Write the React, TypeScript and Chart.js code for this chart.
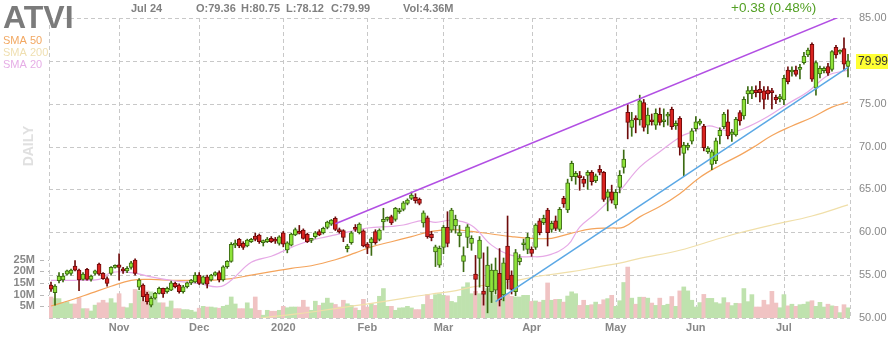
import React, { useEffect, useRef } from 'react';
import { Chart, registerables } from 'chart.js';

Chart.register(...registerables);

const FONT = '"Liberation Sans", Arial, Helvetica, sans-serif';

const TICKER = 'ATVI';
const LAST_DATE = 'Jul 24';

// trading-day index of the first session of each month, and its label
const monthIdx = [17, 37, 58, 79, 98, 120, 141, 161, 183];
const monthLabels = ['Nov', 'Dec', '2020', 'Feb', 'Mar', 'Apr', 'May', 'Jun', 'Jul'];

const priceTicks = [50, 55, 60, 65, 70, 75, 80, 85];
const volTicksM = [5, 10, 15, 20, 25];

const opens = [
  53.84, 52.95, 54.35, 54.43, 55.12, 55.2, 56.06, 55.59, 54.5, 55.67,
  54.5, 55.2, 56.3, 55.2, 54.6, 55.2, 55.9, 56.2, 55.7, 55.5,
  55.9, 56.76, 53.6, 53.84, 52.8, 51.5, 52.3, 52.87, 53.45, 53.07,
  53.26, 54.04, 53.84, 53.07, 53.65, 54.1, 54.2, 55.0, 54.04, 54.8,
  54.43, 55.0, 55.3, 54.43, 55.98, 56.6, 58.5, 59.17, 58.7, 58.4,
  58.9, 59.56, 59.68, 58.8, 58.9, 59.29, 59.2, 58.7, 59.95, 57.93,
  58.5, 59.7, 60.07, 60.26, 59.75, 59.05, 59.48, 60.07, 59.95, 60.57,
  60.96, 61.62, 60.33, 60.2, 58.08, 58.8, 60.57, 59.95, 60.18, 58.62,
  58.78, 60.07, 59.17, 61.2, 61.5, 61.82, 61.5, 62.4, 62.67, 63.37,
  63.96, 64.07, 63.84, 61.1, 61.7, 59.75, 57.7, 56.17, 58.24, 60.57,
  60.26, 60.73, 59.6, 56.6, 59.4, 58.7, 55.13, 56.95, 53.14, 53.65,
  53.07, 53.26, 55.2, 52.68, 58.4, 55.0, 53.07, 56.57, 58.55, 58.0,
  58.0, 58.24, 61.35, 61.12, 62.6, 60.34, 61.35, 60.34, 63.96, 62.6,
  66.49, 66.49, 66.56, 66.17, 66.64, 66.99, 66.02, 67.34, 66.99, 64.07,
  64.73, 63.18, 65.24, 67.57, 73.99, 72.24, 73.2, 73.1, 75.12, 72.5,
  73.1, 72.5, 73.76, 72.9, 73.56, 74.34, 72.4, 73.29, 69.2, 69.9,
  70.64, 72.1, 72.7, 72.4, 69.4, 67.92, 68.35, 71.23, 72.32, 72.9,
  71.43, 71.35, 73.96, 73.57, 76.14, 76.14, 76.6, 76.68, 76.5, 76.6,
  76.5, 75.75, 75.6, 75.44, 78.93, 78.7, 78.93, 79.0, 79.79, 80.69,
  81.93, 76.8, 78.47, 78.85, 79.32, 79.01, 81.58, 81.0, 81.42, 79.36,
];

const highs = [
  54.2, 53.9, 55.3, 55.2, 55.6, 55.7, 56.7, 55.7, 55.3, 55.8,
  55.0, 55.6, 56.4, 55.3, 54.8, 56.0, 56.2, 57.5, 55.9, 56.0,
  56.6, 56.9, 54.6, 54.0, 53.0, 52.5, 53.0, 53.6, 53.5, 53.6,
  54.3, 54.2, 54.0, 53.8, 54.2, 54.5, 55.3, 55.3, 54.9, 55.0,
  55.1, 55.4, 55.5, 56.1, 56.7, 58.8, 59.1, 59.3, 58.9, 59.2,
  59.3, 59.9, 59.8, 59.1, 59.4, 59.5, 59.4, 59.6, 60.1, 58.9,
  59.9, 60.5, 60.8, 60.4, 59.9, 59.3, 60.1, 60.3, 60.6, 61.3,
  61.5, 61.8, 60.5, 60.3, 58.6, 60.1, 60.9, 61.1, 60.3, 58.8,
  59.4, 60.3, 60.4, 62.8, 61.8, 62.0, 62.9, 62.8, 63.6, 63.9,
  64.7, 64.5, 64.0, 62.5, 61.9, 60.1, 58.5, 58.4, 60.8, 62.4,
  62.8, 62.0, 60.8, 58.3, 60.9, 59.6, 57.3, 59.5, 57.6, 58.3,
  56.3, 57.0, 58.1, 57.0, 61.9, 55.5, 58.0, 57.4, 59.2, 59.9,
  58.3, 61.0, 61.6, 62.0, 62.8, 61.3, 61.9, 62.9, 64.2, 66.2,
  68.3, 67.1, 67.1, 66.5, 67.2, 67.2, 66.8, 67.8, 67.1, 65.0,
  65.5, 65.0, 67.2, 69.6, 74.9, 74.0, 73.6, 76.0, 75.5, 74.5,
  73.8, 74.4, 74.5, 74.4, 74.0, 74.6, 73.0, 73.5, 70.5, 70.4,
  72.1, 73.5, 73.2, 72.6, 70.0, 69.6, 71.0, 72.2, 74.0, 74.3,
  72.0, 73.4, 74.2, 75.8, 77.0, 77.0, 77.1, 77.6, 77.0, 77.0,
  76.8, 76.0, 76.1, 78.3, 79.3, 79.3, 79.4, 79.6, 81.0, 81.5,
  82.1, 80.0, 79.4, 79.3, 79.7, 81.2, 81.8, 81.3, 82.7, 80.75,
];

const lows = [
  53.1, 51.5, 54.1, 54.2, 55.0, 55.0, 55.5, 53.2, 54.4, 54.4,
  54.3, 55.0, 55.0, 54.5, 53.7, 55.0, 55.8, 54.4, 55.2, 55.3,
  55.7, 55.0, 53.3, 52.0, 51.6, 51.3, 52.2, 52.8, 52.4, 52.9,
  53.2, 53.5, 52.9, 52.9, 53.5, 53.9, 54.1, 53.9, 53.9, 53.5,
  54.3, 54.9, 54.2, 54.3, 55.8, 56.5, 58.2, 58.2, 58.0, 58.3,
  58.8, 59.0, 58.7, 58.4, 58.8, 58.8, 58.7, 58.5, 58.3, 57.6,
  58.4, 59.6, 59.8, 59.2, 58.8, 58.8, 59.3, 59.6, 59.8, 60.4,
  60.8, 60.2, 59.9, 58.9, 57.7, 58.6, 60.1, 59.8, 58.3, 57.5,
  57.3, 58.6, 59.0, 60.26, 61.3, 60.9, 61.3, 62.2, 62.5, 63.2,
  63.8, 63.4, 63.2, 60.6, 59.3, 59.0, 56.0, 55.9, 57.5, 58.3,
  60.0, 59.9, 58.3, 55.4, 58.2, 57.9, 52.7, 53.6, 51.5, 50.6,
  51.8, 52.8, 51.4, 52.0, 53.4, 52.8, 52.6, 56.2, 57.9, 57.5,
  57.2, 58.0, 59.7, 60.9, 58.4, 60.0, 60.2, 60.1, 62.9, 62.3,
  66.0, 65.6, 64.9, 65.3, 65.0, 65.5, 65.8, 66.7, 63.6, 62.5,
  63.4, 62.8, 64.6, 66.9, 70.9, 71.2, 71.6, 72.5, 71.8, 71.5,
  72.5, 72.0, 72.5, 72.3, 72.5, 72.0, 72.0, 69.0, 66.6, 69.6,
  70.3, 71.8, 72.5, 69.5, 69.2, 67.3, 68.0, 70.3, 72.1, 70.9,
  70.6, 71.2, 72.5, 73.2, 75.0, 75.6, 75.8, 75.2, 74.4, 75.5,
  74.4, 75.0, 75.2, 74.9, 77.3, 78.2, 78.2, 77.9, 79.6, 80.5,
  77.6, 76.0, 78.0, 78.6, 78.3, 78.8, 80.3, 80.8, 78.9, 78.12,
];

const closes = [
  53.37, 53.73, 54.9, 54.9, 55.5, 55.59, 55.59, 54.43, 55.12, 54.5,
  54.9, 55.5, 55.12, 54.6, 54.04, 55.9, 56.06, 55.9, 55.5, 55.8,
  56.45, 55.2, 54.43, 52.48, 51.9, 52.29, 52.87, 53.45, 52.8, 53.45,
  54.1, 53.65, 53.07, 53.65, 54.1, 54.43, 55.0, 54.04, 54.8, 53.95,
  55.0, 55.3, 54.43, 55.98, 56.6, 58.6, 58.75, 58.4, 58.24, 59.1,
  59.17, 59.17, 58.9, 58.85, 59.2, 58.9, 58.95, 59.48, 58.62, 58.78,
  59.8, 60.33, 59.87, 59.29, 58.9, 59.1, 59.95, 59.68, 60.45, 61.2,
  61.43, 60.33, 60.07, 59.4, 58.4, 59.95, 60.33, 60.96, 58.4, 58.24,
  59.25, 58.78, 60.26, 61.5, 61.62, 61.1, 62.8, 62.6, 63.45, 63.76,
  64.35, 63.68, 63.37, 62.28, 59.48, 59.36, 58.3, 58.12, 60.57, 58.7,
  62.6, 61.5, 59.98, 57.27, 60.65, 59.3, 54.5, 59.1, 52.75, 56.17,
  55.6, 55.6, 52.1, 56.45, 54.43, 53.33, 57.62, 57.03, 58.7, 59.41,
  57.54, 60.84, 59.95, 61.62, 59.95, 61.04, 60.45, 62.67, 63.3, 65.78,
  68.04, 66.87, 66.37, 65.71, 66.99, 65.9, 66.6, 66.99, 63.84, 64.73,
  63.76, 64.65, 66.64, 68.54, 72.82, 73.1, 73.1, 75.35, 72.24, 73.68,
  72.9, 73.87, 72.82, 72.95, 73.8, 72.32, 72.7, 69.9, 70.18, 70.14,
  71.85, 72.9, 72.98, 69.87, 69.79, 69.4, 70.68, 71.89, 73.8, 71.23,
  71.7, 73.17, 72.98, 75.5, 76.53, 76.6, 76.3, 76.3, 75.5, 76.14,
  76.3, 75.44, 75.8, 77.96, 77.57, 78.8, 78.43, 79.2, 80.57, 81.27,
  77.85, 79.79, 79.13, 79.13, 78.55, 81.07, 80.69, 81.2, 79.61, 79.99,
];

// volume in millions of shares
const volumesM = [
  9.0, 8.3, 8.3, 6.5, 7.0, 6.0, 6.0, 8.7, 4.0, 4.0,
  3.0, 5.5, 6.5, 7.6, 6.5, 8.3, 6.5, 10.4, 4.7, 4.4,
  6.2, 12.2, 11.6, 7.0, 11.6, 11.2, 8.3, 6.5, 6.5, 4.7,
  7.3, 4.0, 4.0, 3.6, 3.6, 3.3, 2.6, 4.2, 5.0, 4.7,
  4.7, 4.4, 4.2, 5.0, 5.5, 9.0, 6.0, 4.0, 4.0, 6.5,
  4.0, 9.0, 3.3, 1.2, 3.3, 2.9, 2.9, 3.3, 5.0, 4.4,
  4.7, 4.7, 4.7, 7.6, 4.7, 3.3, 7.2, 5.4, 6.4, 8.5,
  6.4, 5.8, 4.7, 7.6, 6.1, 5.4, 4.3, 3.3, 8.0, 4.7,
  6.1, 5.4, 9.3, 12.6, 5.0, 5.0, 3.3, 4.3, 4.4, 5.0,
  4.3, 3.6, 3.6, 5.8, 10.0, 8.0, 10.0, 10.4, 9.7, 9.5,
  7.1, 6.6, 9.3, 13.3, 15.1, 10.4, 11.4, 10.4, 9.7, 12.6,
  12.3, 9.7, 10.1, 15.0, 10.4, 9.3, 9.0, 9.0, 9.7, 9.7,
  7.1, 7.3, 6.8, 7.6, 15.0, 7.6, 8.0, 8.0, 6.8, 9.4,
  11.2, 10.4, 5.4, 7.6, 5.4, 5.7, 6.8, 5.8, 7.8, 8.3,
  9.7, 5.0, 7.4, 15.2, 21.8, 8.5, 5.9, 8.9, 8.9, 8.5,
  6.4, 5.4, 8.5, 5.4, 5.9, 9.2, 5.0, 11.6, 13.3, 11.6,
  7.6, 4.7, 6.6, 10.1, 8.4, 8.4, 6.6, 6.1, 8.7, 6.6,
  5.3, 6.3, 6.2, 12.6, 7.0, 10.0, 4.7, 4.7, 7.6, 5.7,
  11.4, 6.4, 4.4, 10.0, 5.2, 5.9, 5.0, 5.7, 5.9, 6.9,
  7.4, 5.0, 6.7, 4.7, 5.9, 5.2, 5.0, 2.3, 5.7, 4.36,
];

// moving averages (day index -> value)
const sma50Idx = [0, 5, 10, 15, 20, 25, 30, 35, 40, 45, 50, 55, 60, 65, 71, 76, 80, 85, 90, 95, 100, 105, 110, 115, 120, 125, 130, 135, 140, 143, 147, 152, 157, 162, 167, 172, 176, 180, 185, 190, 195, 199];
const sma50Val = [51.4, 52.1, 52.9, 53.7, 54.4, 54.5, 54.4, 54.4, 54.4, 54.6, 55.0, 55.4, 55.8, 56.1, 56.8, 57.6, 58.3, 58.9, 59.5, 60.1, 60.3, 60.1, 59.8, 59.5, 59.3, 59.3, 59.9, 60.4, 60.5, 60.6, 61.8, 63.0, 64.5, 66.4, 67.8, 69.0, 70.1, 71.3, 72.4, 73.4, 74.6, 75.2];

const sma20Idx = [0, 6, 12, 15, 20, 25, 30, 37, 42, 45, 50, 55, 58, 62, 67, 71, 79, 85, 88, 93, 96, 100, 105, 110, 115, 120, 124, 129, 132, 136, 139, 142, 147, 152, 157, 160, 164, 167, 170, 174, 179, 184, 189, 194, 199];
const sma20Val = [54.4, 54.4, 54.5, 55.3, 55.3, 54.8, 54.4, 54.0, 53.65, 54.4, 56.5, 57.2, 57.8, 58.6, 59.3, 59.7, 60.5, 60.7, 60.85, 61.4, 61.15, 61.4, 60.8, 58.5, 57.3, 57.15, 57.3, 58.5, 60.6, 62.2, 63.5, 64.8, 67.6, 69.4, 71.1, 71.7, 72.4, 72.1, 71.7, 72.3, 73.5, 75.0, 76.4, 78.3, 78.9];

const sma200Idx = [52, 55, 62, 71, 80, 88, 95, 100, 105, 114, 122, 130, 137, 142, 147, 157, 167, 172, 180, 190, 199];
const sma200Val = [49.95, 50.15, 50.5, 51.1, 51.7, 52.3, 52.8, 53.1, 53.6, 54.2, 54.9, 55.4, 56.0, 56.4, 56.95, 57.9, 59.3, 59.95, 60.85, 61.9, 63.2];

// hand-drawn trend lines (endpoints)
const purpleIdx = [71, 199];
const purpleVal = [61.0, 85.55];
const blueIdx = [111, 199];
const blueVal = [51.9, 79.25];

const UP_FILL = '#8ee33a';
const UP_LINE = '#3c6b12';
const DN_FILL = '#d92320';
const DN_LINE = '#6e0b0b';
const VOL_UP = '#bfe2ae';
const VOL_DN = '#f0c3c3';
const GRID = '#c8c8c8';

// dashed grid drawn from the chart's own scales
const gridPlugin = {
  id: 'dashedGrid',
  beforeDatasetsDraw(chart: any) {
    const { ctx, chartArea: a, scales } = chart;
    ctx.save();
    ctx.lineWidth = 1;
    ctx.strokeStyle = GRID;
    ctx.setLineDash([4, 3]);
    const seg = (x1: number, y1: number, x2: number, y2: number) => {
      ctx.beginPath();
      ctx.moveTo(x1, y1);
      ctx.lineTo(x2, y2);
      ctx.stroke();
    };
    monthIdx.forEach((v) => {
      const x = Math.round(scales.x.getPixelForValue(v)) + 0.5;
      seg(x, a.top, x, a.bottom);
    });
    priceTicks.forEach((v) => {
      const y = Math.round(scales.y.getPixelForValue(v)) + 0.5;
      seg(a.left, y, a.right, y);
    });
    seg(Math.round(a.left) + 0.5, a.top, Math.round(a.left) + 0.5, a.bottom);
    seg(Math.round(a.right) + 0.5, a.top, Math.round(a.right) + 0.5, a.bottom);
    ctx.strokeStyle = '#b8b8b8';
    ctx.setLineDash([4, 4]);
    volTicksM.forEach((v) => {
      const y = Math.round(scales.yVol.getPixelForValue(v * 1e6)) + 0.5;
      seg(a.left - 9, y, a.left, y);
    });
    ctx.restore();
  },
};

const overlayPlugin = {
  id: 'overlayText',
  afterDraw(chart: any) {
    const ctx = chart.ctx;
    const yScale = chart.scales.y;
    const last = closes.length - 1;
    ctx.save();
    ctx.textAlign = 'left';
    ctx.textBaseline = 'alphabetic';

    ctx.fillStyle = '#7b7b7b';
    ctx.font = `bold 32px ${FONT}`;
    ctx.fillText(TICKER, 3, 28);

    ctx.fillStyle = '#808080';
    ctx.font = `bold 11px ${FONT}`;
    ctx.fillText(LAST_DATE, 131, 12);
    const parts: [string, number][] = [['O', opens[last]], ['H', highs[last]], ['L', lows[last]], ['C', closes[last]]];
    const px = [196, 241, 286, 331];
    parts.forEach(([k, v], j) => ctx.fillText(`${k}:${v.toFixed(2)}`, px[j], 12));
    ctx.fillText(`Vol:${volumesM[last].toFixed(2)}M`, 403, 12);

    const chg = closes[last] - closes[last - 1];
    const pct = (chg / closes[last - 1]) * 100;
    ctx.fillStyle = '#53a024';
    ctx.font = `13.5px ${FONT}`;
    ctx.fillText(`${chg >= 0 ? '+' : ''}${chg.toFixed(2)} (${pct.toFixed(2)}%)`, 731, 12);

    ctx.font = `11px ${FONT}`;
    ctx.fillStyle = '#f2a862';
    ctx.fillText('SMA 50', 3, 44);
    ctx.fillStyle = '#efdfb0';
    ctx.fillText('SMA 200', 3, 56);
    ctx.fillStyle = '#e6aee6';
    ctx.fillText('SMA 20', 3, 67.5);

    ctx.save();
    ctx.translate(33, 146);
    ctx.rotate(-Math.PI / 2);
    ctx.textAlign = 'center';
    ctx.font = `bold 14px ${FONT}`;
    ctx.fillStyle = '#e0e0e0';
    ctx.fillText('DAILY', 0, 0);
    ctx.restore();

    const yp = yScale.getPixelForValue(closes[last]);
    ctx.fillStyle = '#ffff33';
    ctx.fillRect(856, Math.round(yp) - 7, 32, 15);
    ctx.fillStyle = '#333333';
    ctx.font = `12px ${FONT}`;
    ctx.textBaseline = 'middle';
    ctx.fillText(closes[last].toFixed(2), 858, Math.round(yp) + 0.5);
    ctx.restore();
  },
};

export default function App() {
  const ref = useRef<HTMLCanvasElement | null>(null);

  useEffect(() => {
    if (!ref.current) return;
    const idx = opens.map((_, i) => i);
    const up = idx.map((i) => closes[i] >= opens[i]);
    const pts = (xs: number[], ys: number[]) => xs.map((x, j) => ({ x, y: ys[j] }));

    const lineDs = (data: any[], color: string, width: number, order: number, tension: number) => ({
      type: 'line' as const,
      data,
      yAxisID: 'y',
      borderColor: color,
      borderWidth: width,
      pointRadius: 0,
      tension,
      fill: false,
      order,
      clip: 0,
    });

    const chart = new Chart(ref.current, {
      type: 'bar',
      data: {
        datasets: [
          {
            type: 'bar',
            data: idx.map((i) => ({ x: i, y: volumesM[i] * 1e6 })),
            yAxisID: 'yVol',
            backgroundColor: idx.map((i) => (up[i] ? VOL_UP : VOL_DN)),
            borderWidth: 0,
            barThickness: 4,
            grouped: false,
            order: 10,
          } as any,
          lineDs(pts(sma200Idx, sma200Val), '#f0dfa9', 1.2, 8, 0.4),
          lineDs(pts(sma50Idx, sma50Val), '#f4a45c', 1.2, 7, 0.4),
          lineDs(pts(sma20Idx, sma20Val), '#e6a9e6', 1.2, 6, 0.4),
          {
            type: 'bar',
            data: idx.map((i) => ({ x: i, y: [lows[i], highs[i]] })),
            yAxisID: 'y',
            backgroundColor: idx.map((i) => (up[i] ? UP_LINE : DN_LINE)),
            borderWidth: 0,
            barThickness: 1,
            grouped: false,
            order: 3,
          } as any,
          {
            type: 'bar',
            data: idx.map((i) => ({ x: i, y: [opens[i], closes[i]] })),
            yAxisID: 'y',
            backgroundColor: idx.map((i) => (up[i] ? UP_FILL : DN_FILL)),
            borderColor: idx.map((i) => (up[i] ? UP_LINE : DN_LINE)),
            borderWidth: 1,
            borderSkipped: false,
            barThickness: 4,
            minBarLength: 2,
            grouped: false,
            order: 2,
          } as any,
          lineDs(pts(purpleIdx, purpleVal), '#b24fe3', 1.5, 1, 0),
          lineDs(pts(blueIdx, blueVal), '#5ba8e5', 1.5, 1, 0),
        ],
      },
      options: {
        responsive: false,
        devicePixelRatio: 1,
        animation: false,
        layout: { padding: { top: 18, left: 0, right: 0, bottom: 0 } },
        plugins: { legend: { display: false }, tooltip: { enabled: false } },
        scales: {
          x: {
            type: 'linear',
            min: -0.5,
            max: 199.5,
            offset: false,
            afterBuildTicks: (scale: any) => {
              scale.ticks = monthIdx.map((v) => ({ value: v }));
            },
            afterFit: (scale: any) => {
              scale.height = 19;
            },
            ticks: {
              autoSkip: false,
              maxRotation: 0,
              minRotation: 0,
              padding: 3,
              color: '#888888',
              font: { family: FONT, size: 11, weight: 'bold' },
              callback: (v: any) => {
                const k = monthIdx.indexOf(Number(v));
                return k >= 0 ? monthLabels[k] : '';
              },
            },
            grid: { display: false, offset: false, drawTicks: false },
            border: { display: false },
          } as any,
          y: {
            type: 'linear',
            position: 'right',
            min: 50,
            max: 85,
            afterBuildTicks: (scale: any) => {
              scale.ticks = priceTicks.map((v) => ({ value: v }));
            },
            afterFit: (scale: any) => {
              scale.width = 44;
            },
            ticks: {
              padding: 9,
              color: '#888888',
              font: { family: FONT, size: 11 },
              callback: (v: any) => Number(v).toFixed(2),
            },
            grid: { display: false, drawTicks: false },
            border: { display: false },
          } as any,
          yVol: {
            type: 'linear',
            position: 'left',
            min: 0,
            max: 128.4e6,
            afterBuildTicks: (scale: any) => {
              scale.ticks = volTicksM.map((v) => ({ value: v * 1e6 }));
            },
            afterFit: (scale: any) => {
              scale.width = 49;
            },
            ticks: {
              padding: 5,
              color: '#888888',
              font: { family: FONT, size: 11, weight: 'bold' },
              callback: (v: any) => `${Math.round(Number(v) / 1e6)}M`,
            },
            grid: { display: false, drawTicks: true, tickLength: 9 },
            border: { display: false },
          } as any,
        },
      },
      plugins: [gridPlugin, overlayPlugin],
    } as any);

    return () => chart.destroy();
  }, []);

  return (
    <div style={{ position: 'fixed', left: 0, top: 0, width: 894, height: 337, background: '#ffffff' }}>
      <canvas ref={ref} width={894} height={337} style={{ display: 'block', width: 894, height: 337 }} />
    </div>
  );
}
